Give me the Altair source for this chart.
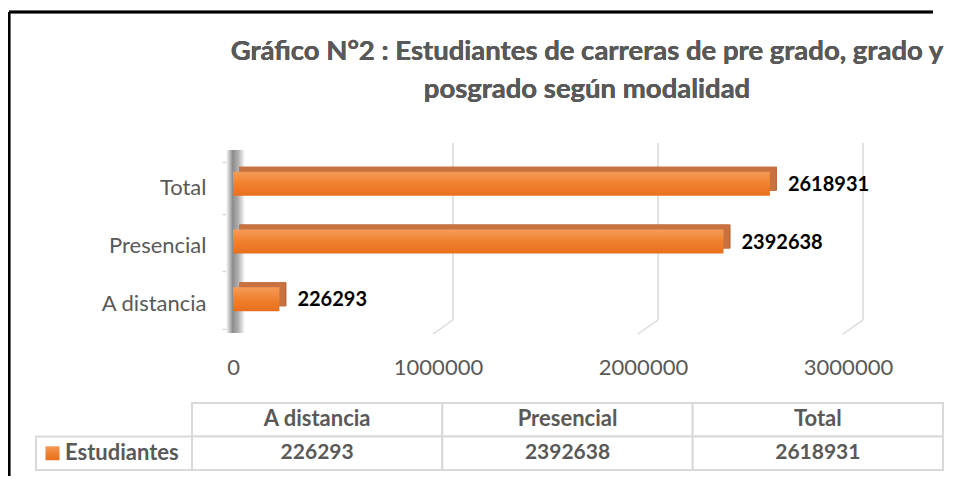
import altair as alt
import pandas as pd

# ---------------- data ----------------
CATEGORIES = ["A distancia", "Presencial", "Total"]
VALUES = [226293, 2392638, 2618931]
SERIES_NAME = "Estudiantes"
X_TICKS = [0, 1000000, 2000000, 3000000]
TITLE_LINES = ["Gráfico N°2 : Estudiantes de carreras de pre grado, grado y",
               "posgrado según modalidad"]
ROW_KEYS = ["header", "values"]

Y_ORDER = ["Total", "Presencial", "A distancia"]

bars_df = pd.DataFrame({"category": CATEGORIES, "value": VALUES})
grid_df = pd.DataFrame({"tick": X_TICKS[1:]})

table_rows = []
for c, v in zip(CATEGORIES, VALUES):
    table_rows.append({"col": c, "row": ROW_KEYS[0], "text": c})
    table_rows.append({"col": c, "row": ROW_KEYS[1], "text": str(v)})
table_df = pd.DataFrame(table_rows)
legend_df = pd.DataFrame({"col": [SERIES_NAME], "row": [ROW_KEYS[1]], "text": [SERIES_NAME]})

# ---------------- styles ----------------
FONT = "Lato"
GREY_TXT = "#595959"
GRID = "#d9d9d9"

front_grad = alt.Gradient(
    gradient="linear", x1=0, x2=0, y1=0, y2=1,
    stops=[alt.GradientStop(offset=0, color="#f59b58"),
           alt.GradientStop(offset=0.5, color="#f0812f"),
           alt.GradientStop(offset=1, color="#e86f1c")])
wall_grad = alt.Gradient(
    gradient="linear", x1=0, x2=1, y1=0, y2=0,
    stops=[alt.GradientStop(offset=0, color="#ffffff"),
           alt.GradientStop(offset=0.35, color="#8a8a8a"),
           alt.GradientStop(offset=0.65, color="#b0b0b0"),
           alt.GradientStop(offset=1, color="#ffffff")])

xscale = alt.Scale(domain=[0, 3000000], nice=False, zero=True)
yscale = alt.Scale(domain=Y_ORDER)

X = alt.X("value:Q", scale=xscale,
          axis=alt.Axis(title=None, domain=False, ticks=False, grid=False,
                        values=X_TICKS, format="d", labelFlush=False,
                        labelOverlap=False, labelFont=FONT, labelFontSize=22,
                        labelColor=GREY_TXT, labelPadding=25))
Y = alt.Y("category:N", scale=yscale, sort=Y_ORDER,
          axis=alt.Axis(title=None, domain=False, ticks=True, tickBand="extent",
                        tickSize=6, tickColor=GRID, tickWidth=1.5, offset=5,
                        grid=False, labelFont=FONT, labelFontSize=22,
                        labelColor=GREY_TXT, labelPadding=16))

# ---------------- decorations ----------------
frame_top = alt.Chart(bars_df).mark_rule(color="#000000", strokeWidth=2.5).encode(
    x=alt.value(-224), x2=alt.value(700), y=alt.value(-147), y2=alt.value(-147))
frame_left = alt.Chart(bars_df).mark_rule(color="#000000", strokeWidth=2.5).encode(
    x=alt.value(-224), x2=alt.value(-224), y=alt.value(-147), y2=alt.value(326))
title = alt.Chart(bars_df).mark_text(
    text=TITLE_LINES, font=FONT, fontSize=27.5, fontWeight="bold", color=GREY_TXT,
    align="center", baseline="middle", lineHeight=38).encode(
    x=alt.value(354), y=alt.value(-107))
wall = alt.Chart(bars_df).mark_rect(fill=wall_grad, opacity=0.75).encode(
    x=alt.value(-7), x2=alt.value(12), y=alt.value(-9), y2=alt.value(174))

# ---------------- bar chart ----------------
grid_v = alt.Chart(grid_df).mark_rule(color=GRID, strokeWidth=1.5, xOffset=15).encode(
    x=alt.X("tick:Q", scale=xscale), y=alt.value(-16), y2=alt.value(161))
grid_s = alt.Chart(grid_df).mark_rule(color=GRID, strokeWidth=1.5, xOffset=15, x2Offset=-5).encode(
    x=alt.X("tick:Q", scale=xscale), x2="tick:Q", y=alt.value(161), y2=alt.value(175))

side = alt.Chart(bars_df).mark_bar(size=24, color="#b05a28", xOffset=7, x2Offset=7,
                                   yOffset=-9, y2Offset=-9).encode(x=X, y=Y)
top = alt.Chart(bars_df).mark_bar(size=24, color="#c8733f", xOffset=6, x2Offset=0,
                                  yOffset=-9, y2Offset=-9).encode(x=X, y=Y)
front = alt.Chart(bars_df).mark_bar(size=24, fill=front_grad, yOffset=-4, y2Offset=-4).encode(x=X, y=Y)
labels = alt.Chart(bars_df).mark_text(
    align="left", baseline="middle", dx=18, dy=-3, font=FONT, fontSize=20,
    fontWeight="bold", color="#000000").encode(
    x=X, y=Y, text=alt.Text("value:Q", format="d"))

bars = alt.layer(grid_v, grid_s, side, top, front, labels)

# ---------------- data table ----------------
col_scale = alt.Scale(domain=CATEGORIES, range=[-41, 710], paddingInner=0, paddingOuter=0)
row_scale = alt.Scale(domain=ROW_KEYS, range=[244, 311], paddingInner=0, paddingOuter=0)
leg_scale = alt.Scale(domain=[SERIES_NAME], range=[-197, -41], paddingInner=0, paddingOuter=0)

cells = alt.Chart(table_df).mark_rect(fill="#ffffff", stroke=GRID, strokeWidth=2).encode(
    x=alt.X("col:N", scale=col_scale, axis=None, sort=CATEGORIES),
    y=alt.Y("row:N", scale=row_scale, axis=None, sort=ROW_KEYS))
head_text = alt.Chart(table_df[table_df["row"] == ROW_KEYS[0]]).mark_text(
    font=FONT, fontSize=22, fontWeight="bold", color=GREY_TXT, baseline="middle", dy=-1).encode(
    x=alt.X("col:N", scale=col_scale, axis=None, sort=CATEGORIES),
    y=alt.Y("row:N", scale=row_scale, axis=None, sort=ROW_KEYS),
    text="text:N")
val_text = alt.Chart(table_df[table_df["row"] == ROW_KEYS[1]]).mark_text(
    font=FONT, fontSize=21, fontWeight="bold", color=GREY_TXT, baseline="middle").encode(
    x=alt.X("col:N", scale=col_scale, axis=None, sort=CATEGORIES),
    y=alt.Y("row:N", scale=row_scale, axis=None, sort=ROW_KEYS),
    text="text:N")
table = alt.layer(cells, head_text, val_text)

leg_cell = alt.Chart(legend_df).mark_rect(fill="#ffffff", stroke=GRID, strokeWidth=2).encode(
    x=alt.X("col:N", scale=leg_scale, axis=None),
    y=alt.Y("row:N", scale=row_scale, axis=None, sort=ROW_KEYS))
leg_swatch = alt.Chart(legend_df).mark_square(size=196, fill=front_grad, opacity=1,
                                              xOffset=-61.5).encode(
    x=alt.X("col:N", scale=leg_scale, axis=None),
    y=alt.Y("row:N", scale=row_scale, axis=None, sort=ROW_KEYS))
leg_text = alt.Chart(legend_df).mark_text(
    align="left", baseline="middle", dx=-49, font=FONT, fontSize=22,
    fontWeight="bold", color=GREY_TXT).encode(
    x=alt.X("col:N", scale=leg_scale, axis=None),
    y=alt.Y("row:N", scale=row_scale, axis=None, sort=ROW_KEYS),
    text="text:N")
legend = alt.layer(leg_cell, leg_swatch, leg_text)

chart = alt.layer(frame_top, frame_left, title, wall, bars, table, legend).resolve_scale(
    x="independent", y="independent"
).properties(
    width=615, height=173,
    autosize=alt.AutoSizeParams(type="none"),
    padding={"left": 225, "top": 151, "right": 101, "bottom": 144},
    background="#ffffff",
).configure_view(stroke=None)

chart.save("out.html", embed_options={"renderer": "svg", "actions": False})
